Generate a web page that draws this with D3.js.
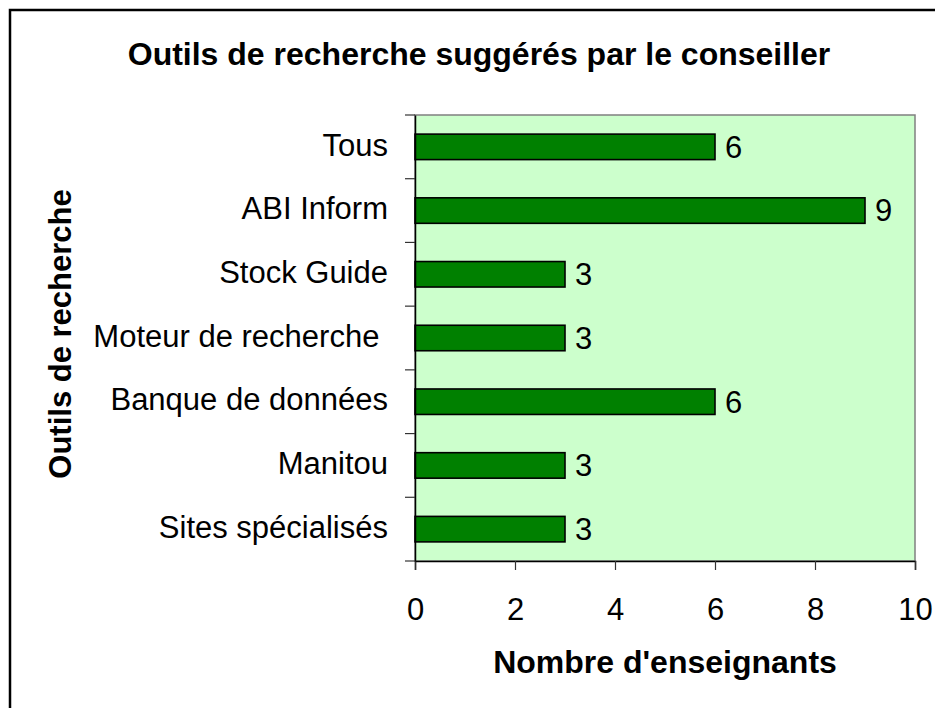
<!DOCTYPE html>
<html><head><meta charset="utf-8">
<script src="https://cdn.jsdelivr.net/npm/d3@7"></script>
<style>
html,body{margin:0;padding:0;background:#fff;}
svg{display:block;font-family:"Liberation Sans",Arial,sans-serif;}
</style></head>
<body>
<script>
const categories = ["Tous","ABI Inform","Stock Guide","Moteur de recherche ","Banque de données","Manitou","Sites spécialisés"];
const values = [6, 9, 3, 3, 6, 3, 3];
const xTicks = [0, 2, 4, 6, 8, 10];
const title = "Outils de recherche suggérés par le conseiller";
const xTitle = "Nombre d'enseignants";
const yTitle = "Outils de recherche";

const W = 935, H = 708;
const FS = 31;
const svg = d3.select("body").append("svg").attr("width", W).attr("height", H);

// outer frame
svg.append("rect").attr("x", 10).attr("y", 10).attr("width", W + 20).attr("height", H + 20)
  .attr("fill", "#fff").attr("stroke", "#000").attr("stroke-width", 2.5);

const plot = {left: 415, right: 915, top: 115, bottom: 561};
const x = d3.scaleLinear().domain([0, 10]).range([plot.left, plot.right]);
const y = d3.scaleBand().domain(categories).range([plot.top, plot.bottom]).paddingInner(0.6).paddingOuter(0.3);

// plot background
svg.append("rect").attr("x", plot.left).attr("y", plot.top)
  .attr("width", plot.right - plot.left).attr("height", plot.bottom - plot.top)
  .attr("fill", "#CCFFCC").attr("stroke", "#808080").attr("stroke-width", 1.5);

// bars
svg.selectAll("rect.bar").data(categories).enter().append("rect").attr("class", "bar")
  .attr("x", x(0)).attr("y", d => y(d))
  .attr("width", (d, i) => x(values[i]) - x(0)).attr("height", y.bandwidth())
  .attr("fill", "#008000").attr("stroke", "#000").attr("stroke-width", 1.6);

// value labels
svg.selectAll("text.val").data(categories).enter().append("text").attr("class", "val")
  .attr("x", (d, i) => x(values[i]) + 10).attr("y", d => y(d) + y.bandwidth() / 2)
  .attr("dy", "0.35em").attr("font-size", FS).attr("fill", "#000")
  .text((d, i) => values[i]);

// x axis
const xAxis = d3.axisBottom(x).tickValues(xTicks).tickSize(9).tickPadding(28).tickFormat(d3.format("d"));
const gx = svg.append("g").attr("transform", `translate(0,${plot.bottom})`).call(xAxis);
gx.select(".domain").attr("stroke", "#000").attr("stroke-width", 1.5);
gx.selectAll(".tick line").attr("stroke", "#333").attr("stroke-width", 1.2);
gx.selectAll("text").attr("font-size", FS).attr("fill", "#000").attr("font-family", "'Liberation Sans',Arial,sans-serif");

// y axis (labels)
const yAxis = d3.axisLeft(y).tickSize(0).tickPadding(27);
const gy = svg.append("g").attr("transform", `translate(${plot.left},0)`).call(yAxis);
gy.select(".domain").attr("stroke", "#000").attr("stroke-width", 1.5);
gy.selectAll("text").attr("font-size", FS).attr("fill", "#000").attr("dy", "0.28em")
  .attr("font-family", "'Liberation Sans',Arial,sans-serif").style("white-space", "pre");

// y tick marks at category boundaries
const bounds = d3.range(categories.length + 1).map(i => plot.top + i * y.step());
svg.selectAll("line.ytick").data(bounds).enter().append("line").attr("class", "ytick")
  .attr("x1", plot.left - 10).attr("x2", plot.left)
  .attr("y1", d => d).attr("y2", d => d)
  .attr("stroke", "#333").attr("stroke-width", 1.2);

// titles
svg.append("text").attr("x", 479).attr("y", 65).attr("text-anchor", "middle")
  .attr("font-size", 32).attr("font-weight", "bold").text(title);
svg.append("text").attr("x", (plot.left + plot.right) / 2).attr("y", 673).attr("text-anchor", "middle")
  .attr("font-size", 32).attr("font-weight", "bold").text(xTitle);
svg.append("text").attr("transform", `translate(71,${(plot.top + plot.bottom) / 2 - 4}) rotate(-90)`)
  .attr("text-anchor", "middle").attr("font-size", 31).attr("font-weight", "bold").text(yTitle);
</script>
</body></html>
